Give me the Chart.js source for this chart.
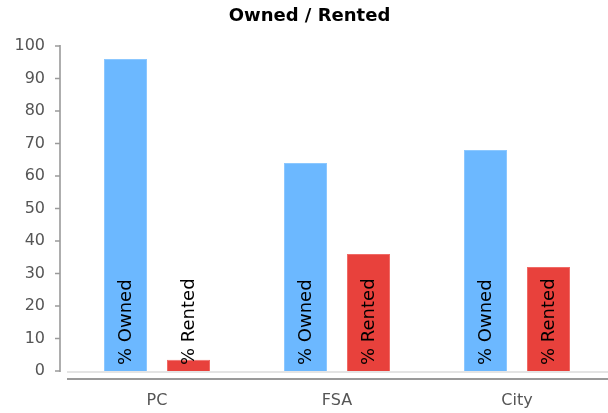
<!DOCTYPE html>
<html>
<head>
<meta charset="utf-8">
<script src="https://cdn.jsdelivr.net/npm/chart.js@4"></script>
<style>
html,body{margin:0;padding:0;background:#fff;}
#wrap{width:608px;height:413px;}
</style>
</head>
<body>
<div id="wrap"><canvas id="c" width="608" height="413"></canvas></div>
<script>
const categories = ["PC", "FSA", "City"];
const ownedValues = [96, 64, 68];
const rentedValues = [3.5, 36, 32];
const seriesNames = ["% Owned", "% Rented"];
const yTicks = [0, 10, 20, 30, 40, 50, 60, 70, 80, 90, 100];

const axisPlugin = {
  id: 'axisLines',
  beforeDatasetsDraw(chart) {
    const ctx = chart.ctx, a = chart.chartArea;
    ctx.save();
    ctx.strokeStyle = '#e4e4e4';
    ctx.lineWidth = 2;
    ctx.beginPath();
    ctx.moveTo(a.left, a.bottom + 1);
    ctx.lineTo(a.right + 1, a.bottom + 1);
    ctx.stroke();
    ctx.restore();
  },
  afterDraw(chart) {
    const ctx = chart.ctx, a = chart.chartArea, ys = chart.scales.y;
    ctx.save();
    ctx.strokeStyle = '#9a9a9a';
    ctx.lineWidth = 1.6;
    const ax = a.left - 7;
    ctx.beginPath();
    ctx.moveTo(ax, a.top - 1);
    ctx.lineTo(ax, a.bottom + 1);
    yTicks.forEach(v => {
      const y = ys.getPixelForValue(v);
      ctx.moveTo(ax - 5, y);
      ctx.lineTo(ax, y);
    });
    ctx.stroke();
    ctx.lineWidth = 2;
    ctx.strokeStyle = '#9a9a9a';
    ctx.beginPath();
    ctx.moveTo(a.left, a.bottom + 8);
    ctx.lineTo(a.right + 1, a.bottom + 8);
    ctx.stroke();
    ctx.restore();
  }
};

const barLabelPlugin = {
  id: 'barLabels',
  afterDatasetsDraw(chart) {
    const ctx = chart.ctx;
    const y0 = chart.scales.y.getPixelForValue(0);
    ctx.save();
    ctx.fillStyle = '#000';
    ctx.font = '18px "DejaVu Sans"';
    ctx.textAlign = 'left';
    ctx.textBaseline = 'middle';
    chart.data.datasets.forEach((ds, di) => {
      chart.getDatasetMeta(di).data.forEach(bar => {
        ctx.save();
        ctx.translate(bar.x + 1, y0 - 6);
        ctx.rotate(-Math.PI / 2);
        ctx.fillText(ds.label, 0, 0);
        ctx.restore();
      });
    });
    ctx.restore();
  }
};

new Chart(document.getElementById('c'), {
  type: 'bar',
  data: {
    labels: categories,
    datasets: [
      { label: seriesNames[0], data: ownedValues, backgroundColor: '#6cb8ff', borderColor: '#8cc8ff', borderWidth: 1 },
      { label: seriesNames[1], data: rentedValues, backgroundColor: '#e8413c', borderColor: '#f06a66', borderWidth: 1 }
    ]
  },
  options: {
    responsive: false,
    animation: false,
    events: [],
    layout: { padding: { left: 12, right: 1, top: 0, bottom: 0 } },
    datasets: { bar: { categoryPercentage: 0.7, barPercentage: 0.683 } },
    plugins: {
      legend: { display: false },
      tooltip: { enabled: false },
      title: {
        display: true,
        text: 'Owned / Rented',
        color: '#000',
        font: { family: '"DejaVu Sans"', size: 18, weight: 'bold', lineHeight: 1.2 },
        padding: { top: 6, bottom: 18.4 }
      }
    },
    scales: {
      x: {
        grid: { display: false, drawTicks: false },
        border: { display: false },
        ticks: { color: '#555', font: { family: '"DejaVu Sans"', size: 16 }, padding: 20 },
        afterFit(s) { s.height = 42; }
      },
      y: {
        min: 0, max: 100,
        grid: { display: false, drawTicks: false },
        border: { display: false },
        ticks: { stepSize: 10, color: '#555', font: { family: '"DejaVu Sans"', size: 16 }, padding: 22 },
        afterFit(s) { s.width = 55; }
      }
    }
  },
  plugins: [axisPlugin, barLabelPlugin]
});
</script>
</body>
</html>
